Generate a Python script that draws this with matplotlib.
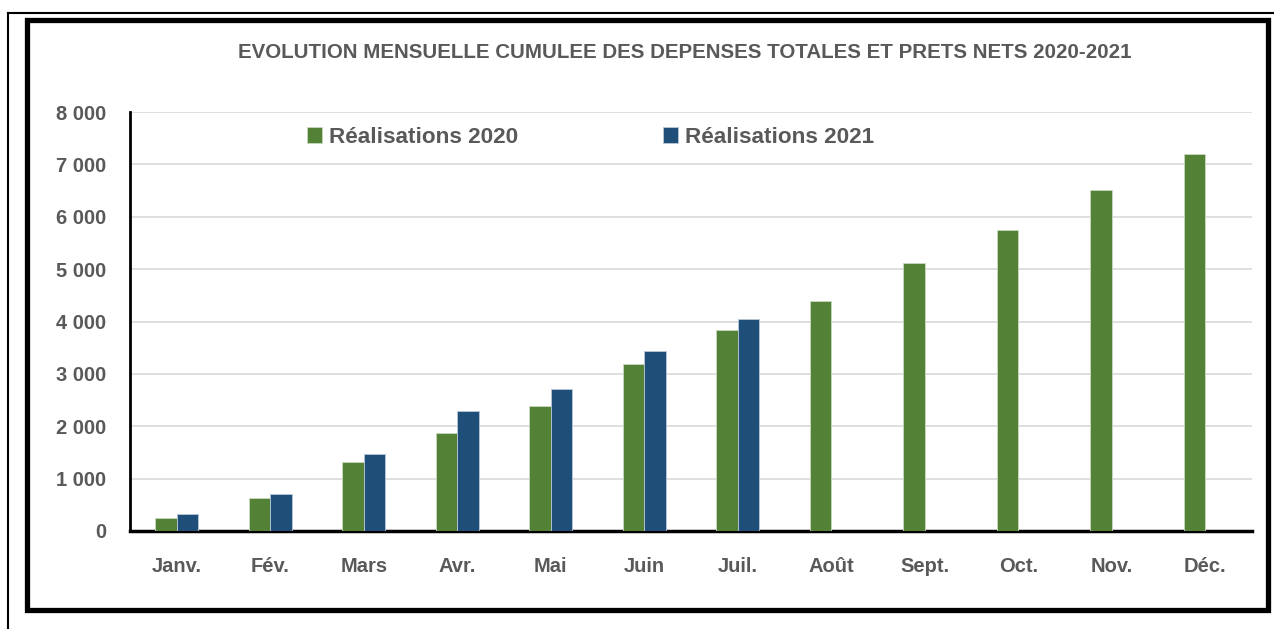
import numpy as np
import matplotlib
matplotlib.use("Agg")
import matplotlib.pyplot as plt
from matplotlib.patches import Rectangle
from matplotlib.lines import Line2D
from matplotlib.ticker import FuncFormatter

# données
mois = ["Janv.", "Fév.", "Mars", "Avr.", "Mai", "Juin", "Juil.",
        "Août", "Sept.", "Oct.", "Nov.", "Déc."]
real_2020 = [248, 630, 1323, 1870, 2385, 3187, 3836, 4389, 5115, 5744, 6508, 7189]
real_2021 = [319, 700, 1464, 2290, 2710, 3435, 4046]

VERT = "#538135"
BLEU = "#1F4E79"
GRIS = "#595959"
plt.rcParams["font.family"] = ["Liberation Sans", "DejaVu Sans"]

W, H = 1274, 629
fig = plt.figure(figsize=(W / 100, H / 100), dpi=100)

def fx(px):
    return px / W

def fy(py):
    return 1 - py / H

# cadres
fig.add_artist(Line2D([fx(8), 1], [fy(13), fy(13)], color="black", lw=1.5))
fig.add_artist(Line2D([fx(8), fx(8)], [fy(13), 0], color="black", lw=1.5))
fig.add_artist(Rectangle((fx(27), fy(610)), fx(1268) - fx(27), fy(20) - fy(610),
                         fill=False, edgecolor="black", lw=3.8))

ax = fig.add_axes([fx(130), fy(531), fx(1252) - fx(130), fy(112) - fy(531)])

x = np.arange(len(mois))
w = 0.23
ax.bar(x[:len(real_2020)] - w / 2, real_2020, w, color=VERT,
       edgecolor="#c9d9bf", linewidth=0.6, label="Réalisations 2020", zorder=3)
ax.bar(x[:len(real_2021)] + w / 2, real_2021, w, color=BLEU,
       edgecolor="#b8c8d8", linewidth=0.6, label="Réalisations 2021", zorder=3)

ax.set_xlim(-0.5, len(mois) - 0.5)
ax.set_ylim(0, 8000)
ax.set_yticks(range(0, 8001, 1000))
ax.yaxis.set_major_formatter(FuncFormatter(lambda v, p: f"{int(v):,}".replace(",", " ")))
ax.set_xticks(x)
ax.set_xticklabels(mois)
ax.grid(axis="y", color="#D9D9D9", lw=1.2, zorder=0)
ax.tick_params(length=0, labelsize=14.5, colors=GRIS)
ax.tick_params(axis="x", pad=19)
ax.tick_params(axis="y", pad=17)
for lab in ax.get_xticklabels() + ax.get_yticklabels():
    lab.set_fontweight("bold")

for s in ["top", "right"]:
    ax.spines[s].set_visible(False)
ax.spines["left"].set_linewidth(2)
ax.spines["bottom"].set_linewidth(2.5)

leg = ax.legend(loc="upper left", bbox_to_anchor=(0.14, 1.013), ncol=2, frameon=False,
                handlelength=0.67, handleheight=0.67, handletextpad=0.31, columnspacing=6.4,
                prop={"size": 16.2, "weight": "bold"})
for t in leg.get_texts():
    t.set_color(GRIS)

fig.text(fx(685), fy(52), "EVOLUTION MENSUELLE CUMULEE DES DEPENSES TOTALES ET PRETS NETS 2020-2021",
         ha="center", va="center", fontsize=14.8, fontweight="bold", color=GRIS)

fig.savefig("out.png", dpi=100)
